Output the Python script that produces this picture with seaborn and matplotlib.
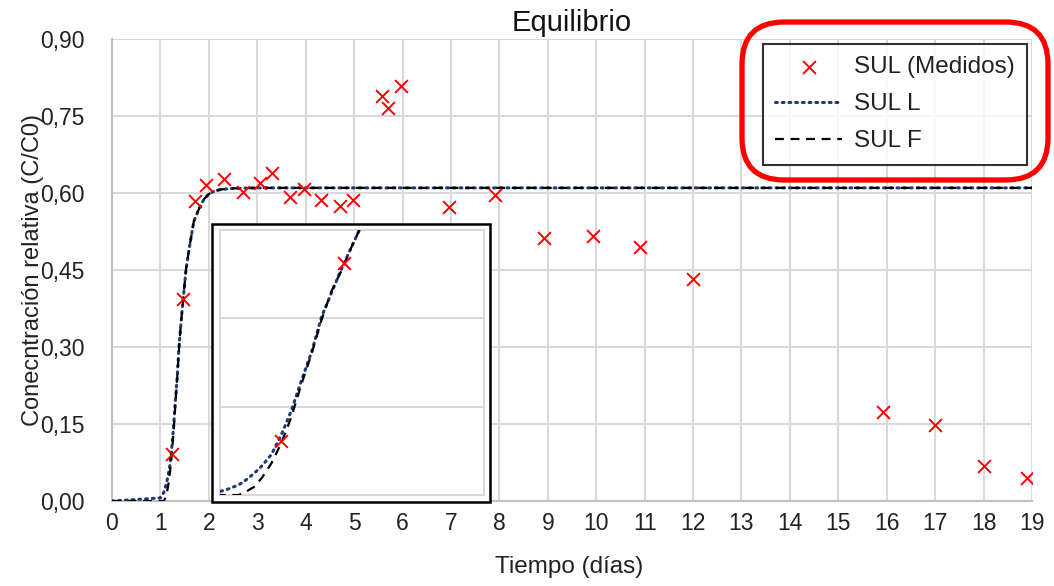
import matplotlib
matplotlib.use("Agg")
import matplotlib.pyplot as plt
from matplotlib.patches import FancyBboxPatch, Rectangle
from matplotlib.ticker import FuncFormatter
import pandas as pd
import seaborn as sns

# Measured relative concentration (C/C0) over time (days)
t_medidos = [1.23, 1.47, 1.71, 1.95, 2.31, 2.71, 3.06, 3.31, 3.68, 3.97, 4.32,
             4.70, 4.97, 5.58, 5.70, 5.97, 6.95, 7.92, 8.92, 9.94, 10.91, 12.0,
             15.93, 17.0, 18.0, 18.9]
c_medidos = [0.091, 0.394, 0.584, 0.615, 0.627, 0.601, 0.620, 0.639, 0.592, 0.607, 0.587,
             0.574, 0.587, 0.788, 0.766, 0.808, 0.572, 0.596, 0.513, 0.517, 0.495, 0.432,
             0.173, 0.149, 0.068, 0.045]

# Model curves (SUL L and SUL F)
t_modelo = [0.0, 1.0, 1.03, 1.07, 1.10, 1.13, 1.16, 1.195, 1.233, 1.27, 1.309, 1.347,
            1.385, 1.422, 1.46, 1.498, 1.53, 1.60, 1.69, 1.80, 1.90, 2.00, 2.10,
            2.25, 2.50, 3.00, 19.0]
c_sul_l = [0.0, 0.006, 0.010, 0.017, 0.026, 0.037, 0.050, 0.069, 0.103, 0.143, 0.195, 0.243,
           0.303, 0.343, 0.384, 0.421, 0.452, 0.495, 0.545, 0.570, 0.588, 0.598, 0.603,
           0.607, 0.609, 0.610, 0.610]
c_sul_f = [0.0, 0.0, 0.0, 0.0, 0.006, 0.014, 0.030, 0.054, 0.089, 0.132, 0.189, 0.240,
           0.298, 0.346, 0.381, 0.421, 0.452, 0.495, 0.545, 0.570, 0.588, 0.598, 0.603,
           0.607, 0.609, 0.610, 0.610]

x_ticks = list(range(0, 20))
y_ticks = [0.0, 0.15, 0.30, 0.45, 0.60, 0.75, 0.90]

medidos = pd.DataFrame({"t": t_medidos, "c": c_medidos})
modelo = pd.DataFrame({"t": t_modelo, "L": c_sul_l, "F": c_sul_f})

sns.set_theme(style="white")
plt.rcParams["font.family"] = ["Liberation Sans", "DejaVu Sans"]

NAVY = "#1f3a73"
GRID = "#d9d9d9"
TEXT = "#222222"

fig = plt.figure(figsize=(10.54, 5.86), dpi=100)
W, H = 1054, 586


def px_axes(x0, y0, x1, y1):
    return [x0 / W, 1 - y1 / H, (x1 - x0) / W, (y1 - y0) / H]


ax = fig.add_axes(px_axes(112, 39, 1032, 501))


def draw_series(a, with_labels):
    sns.lineplot(data=modelo, x="t", y="L", ax=a, sort=False, color=NAVY,
                 linestyle=(0, (0.6, 1.6)), dash_capstyle="round", linewidth=2.2,
                 label="SUL L" if with_labels else None, zorder=3)
    sns.lineplot(data=modelo, x="t", y="F", ax=a, sort=False, color="black",
                 linestyle=(0, (4, 3)), linewidth=1.6,
                 label="SUL F" if with_labels else None, zorder=3)
    sns.scatterplot(data=medidos, x="t", y="c", ax=a, marker="x", color="#ff0000",
                    s=85, linewidth=1.4, label="SUL (Medidos)" if with_labels else None,
                    zorder=4)


draw_series(ax, True)

ax.set_xlim(0, 19)
ax.set_ylim(0, 0.9)
ax.set_xticks(x_ticks)
ax.set_yticks(y_ticks)
ax.yaxis.set_major_formatter(FuncFormatter(lambda v, _: f"{v:.2f}".replace(".", ",")))
ax.grid(True, color=GRID, linewidth=1.5)
ax.set_axisbelow(True)
for s in ["top", "right"]:
    ax.spines[s].set_visible(False)
for s in ["left", "bottom"]:
    ax.spines[s].set_color("#bfbfbf")
    ax.spines[s].set_linewidth(1.5)
ax.tick_params(axis="both", labelsize=16.5, colors=TEXT, length=0, pad=8)
ax.tick_params(axis="y", pad=20)
ax.set_xlabel("Tiempo (días)", fontsize=17.5, color=TEXT)
ax.xaxis.set_label_coords(0.497, -0.118)
ax.set_ylabel("Conecntración relativa (C/C0)", fontsize=17, color=TEXT)
ax.yaxis.set_label_coords(-0.074, 0.5)
ax.set_title("Equilibrio", fontsize=21, color="#111111", pad=6)

# Legend in the upper right, ordered as measured, L, F
handles, labels = ax.get_legend_handles_labels()
order = [labels.index("SUL (Medidos)"), labels.index("SUL L"), labels.index("SUL F")]
leg = ax.legend([handles[i] for i in order], [labels[i] for i in order],
                loc="upper right", bbox_to_anchor=(0.9946, 0.989), borderaxespad=0,
                fontsize=17.5, frameon=True, fancybox=False, handlelength=2.75,
                handletextpad=0.5, labelspacing=0.62, borderpad=0.5)
leg.get_frame().set_edgecolor("black")
leg.get_frame().set_linewidth(1.5)
leg.set_zorder(6)
for txt in leg.get_texts():
    txt.set_color(TEXT)

# Rounded highlight around the legend
fig.patches.append(FancyBboxPatch((742 / W + 0.025, 1 - 180 / H + 0.045),
                                  (1048 - 742) / W - 0.05, (180 - 22) / H - 0.09,
                                  boxstyle="round,pad=0.025,rounding_size=0.04",
                                  transform=fig.transFigure, fill=False,
                                  edgecolor="#ff0000", linewidth=3.8, zorder=10,
                                  mutation_aspect=W / H))

# Zoomed inset of the breakthrough
fig.patches.append(Rectangle((212 / W, 1 - 502 / H), (490 - 212) / W, (502 - 224) / H,
                             transform=fig.transFigure, facecolor="white",
                             edgecolor="black", linewidth=1.8, zorder=5))
axin = fig.add_axes(px_axes(220, 230, 484, 495))
axin.set_zorder(7)
draw_series(axin, False)
axin.set_xlim(1.0, 2.0)
axin.set_ylim(0, 0.45)
axin.set_yticks([0.15, 0.30])
axin.set_xticks([])
axin.grid(True, axis="y", color=GRID, linewidth=1.5)
axin.set_axisbelow(True)
axin.tick_params(labelleft=False, labelbottom=False, length=0)
axin.set_xlabel("")
axin.set_ylabel("")
for s in axin.spines.values():
    s.set_color(GRID)
    s.set_linewidth(1.5)

fig.savefig("out.png", dpi=100)
